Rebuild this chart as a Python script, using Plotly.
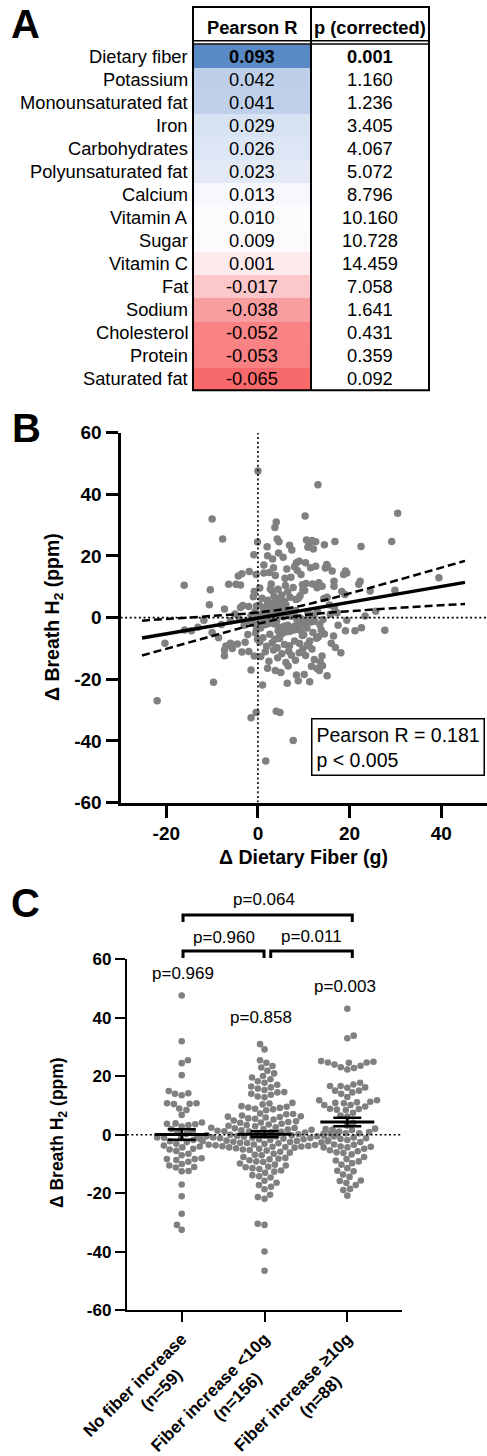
import numpy as np
import plotly.graph_objects as go

W, H = 487, 1456
FONT = "Liberation Sans, Arial, Helvetica, sans-serif"

# ---------------- Panel A data ----------------
nutrients = ["Dietary fiber", "Potassium", "Monounsaturated fat", "Iron", "Carbohydrates",
             "Polyunsaturated fat", "Calcium", "Vitamin A", "Sugar", "Vitamin C", "Fat",
             "Sodium", "Cholesterol", "Protein", "Saturated fat"]
pearson_r = [0.093, 0.042, 0.041, 0.029, 0.026, 0.023, 0.013, 0.010, 0.009, 0.001,
             -0.017, -0.038, -0.052, -0.053, -0.065]
p_corrected = [0.001, 1.160, 1.236, 3.405, 4.067, 5.072, 8.796, 10.160, 10.728, 14.459,
               7.058, 1.641, 0.431, 0.359, 0.092]

# ---------------- Panel B / C data (per participant) ----------------
fiber_none = [0.0, -10.0, -7.7, -0.1, -0.9, -1.9, -3.5, -0.4, -4.3, -6.4,
              -4.8, -16.1, -3.8, -10.4, -0.8, -1.0, -10.6, -3.3, -0.3, -2.0,
              -3.8, -7.3, -0.6, -5.0, -1.5, -0.2, -4.0, -11.8, -2.5, -0.8,
              -6.0, -1.2, -8.0, -3.0, -13.1, -0.3, -16.0, -14.5, -10.0, -0.5,
              -2.2, -8.6, -0.1, -20.3, -2.8, -4.5, -7.0, -5.6, -7.3, -2.0,
              -3.5, -0.8, -7.3, -1.5, -9.7, -22.0, -0.4, -1.5, -6.0]
h2_none = [47.6, 32.0, 25.5, 24.5, 20.4, 15.0, 14.2, 14.0, 13.5, 10.8,
           10.8, 10.5, 10.6, 9.0, 8.5, 6.8, 4.2, 3.9, 3.8, 3.6,
           3.3, 2.8, 2.0, 1.2, 0.8, 0.3, -0.5, -0.9, -1.2, -1.4,
           -1.0, -1.8, -2.2, -2.5, -3.1, -3.7, -4.0, -4.3, -4.8, -5.0,
           -5.5, -6.5, -7.0, -8.3, -8.0, -8.6, -9.2, -10.0, -10.5, -11.0,
           -11.2, -12.5, -12.4, -17.0, -21.0, -27.0, -30.8, -32.5, -8.3]

fiber_low = [4.0, 3.7,
             4.2, 6.9, 8.0, 4.6, 2.0,
             4.5, 2.1, 5.5, 9.0, 7.4, 3.2, 8.4,
             1.3, 3.4, 6.3, 8.6, 1.3, 2.5, 3.8, 7.2, 9.4, 5.9,
             2.9, 6.0, 9.7, 0.4, 3.1, 4.4, 6.5, 7.7, 9.8, 2.7, 0.6, 8.1, 5.1, 4.7,
             5.2, 5.8, 7.0, 8.3, 9.2, 0.9, 4.9, 3.5, 8.8, 2.2, 3.9, 0.3, 1.1, 1.8,
             2.1, 2.6, 3.2, 3.9, 4.5, 4.8, 5.3, 6.1,
             0.8, 1.4, 2.4, 2.9, 3.3, 3.6, 4.1, 4.3, 5.0, 5.6, 5.9, 6.4, 6.6, 6.8,
             7.1, 7.3, 7.6, 7.9, 8.2, 8.5, 8.7, 9.0, 9.3, 9.6, 9.9, 0.2, 0.5, 0.7,
             1.0, 1.2, 1.5, 1.7, 2.0, 2.3, 2.5, 2.8, 3.0, 3.3, 3.6, 3.8, 4.1,
             4.4, 4.6, 4.9, 5.1, 5.4, 5.7, 6.0, 6.3, 6.5, 6.8, 7.0, 7.4, 7.8, 8.1,
             8.4, 8.9, 9.3, 9.7, 1.1, 2.6, 3.7, 4.7, 5.3,
             0.4, 1.9, 3.1, 4.2, 5.8, 6.9, 8.0, 9.1, 1.6, 3.4, 5.2, 6.7, 7.3, 9.0, 9.8,
             0.6, 2.4, 4.3, 6.1, 8.2, 2.1, 6.6, 3.8,
             5.0, 8.4, 8.8, 1.0, 6.4,
             4.0, 4.8, 7.7, 1.7]
h2_low = [31.0, 29.2,
          25.5, 23.5, 16.5, 24.6, 23.0,
          21.0, 20.1, 19.6, 18.3, 21.9, 19.0, 17.8,
          17.1, 16.2, 15.8, 15.3, 14.5, 14.6, 13.7, 13.1, 14.0, 12.8,
          10.9, 10.4, 10.7, 9.6, 8.7, 9.2, 8.4, 9.8, 8.9, 9.3, -3.4, -2.7, -5.0, -6.8,
          7.3, 5.2, 6.6, 5.9, 7.1, 6.3, 5.5, 7.0, 6.2, 5.6, 6.1, 4.1, 3.3, 2.6,
          4.6, 3.1, 4.4, 3.8, 4.9, 2.9, 3.5, 4.2,
          1.2, 0.5, 0.9, 1.7, 0.2, 2.2, 1.4, 0.7, 1.0, 0.3, 2.4, 1.8, 0.6, 2.0,
          1.1, 0.4, 1.5, 0.8, 2.3, -0.6, -2.4, -1.3, -0.2, -2.0, -0.9, -1.6, -0.4, -1.9,
          -0.8, -1.1, -0.3, -2.2, -1.5, -0.7, -1.8, -0.5, -0.1, -1.2, -2.1, 0.0, -1.0,
          -4.3, -3.1, -4.8, -3.6, -4.1, -2.8, -3.3, -4.6, -2.5, -3.9, -4.4, -3.5, -4.0, -2.9,
          -3.8, -2.6, -4.2, -5.8, -6.5, -5.4, -7.0, -6.1, -5.2,
          -7.9, -9.3, -8.2, -9.8, -8.7, -9.1, -7.6, -8.4, -11.1, -10.5, -11.7, -10.9, -12.2, -11.4, -10.2,
          -12.6, -14.2, -13.0, -14.6, -13.8, -16.4, -15.7, -17.2,
          -17.8, -18.6, -20.5, -21.9, -21.3,
          -30.4, -30.8, -39.9, -46.5]

fiber_high = [13.1, 10.3, 30.5, 29.2, 16.8, 22.5, 10.6, 11.2, 12.1, 12.6,
              10.9, 14.5, 11.8, 15.2, 14.7, 15.0, 12.6, 11.5, 10.4, 19.1,
              18.7, 16.2, 19.4, 13.3, 14.0, 12.9, 16.6, 16.6, 22.3, 22.0,
              39.5, 29.9, 24.5, 18.3, 19.0, 15.1, 14.4, 12.3, 11.0, 11.6,
              10.2, 13.5, 10.8, 11.9, 10.5, 15.6, 16.7, 17.3, 15.8, 13.0,
              11.5, 25.7, 23.4, 19.4, 10.9, 12.4, 14.2, 27.7, 21.2, 19.1,
              13.8, 14.5, 12.8, 16.5, 16.0, 16.9, 10.7, 11.3, 11.8, 10.4,
              12.3, 13.6, 14.1, 12.9, 13.4, 11.7, 15.1, 11.3, 10.1, 14.0,
              12.0, 10.3, 17.5, 13.2, 11.1, 22.6, 18.1, 10.0]
h2_high = [43.1, 33.0, 33.9, 24.7, 24.7, 23.1, 25.2, 24.0, 22.3, 24.6,
           22.8, 23.6, 25.0, 16.7, 16.1, 17.2, 16.7, 16.2, 17.8, 15.1,
           14.0, 15.1, 14.5, 11.3, 10.2, 9.7, 11.8, 10.2, 11.8, 10.8,
           12.9, 8.9, 8.6, 8.5, 7.5, 6.6, 6.2, 0.9, -0.3, -1.4,
           8.8, -2.2, -8.8, 10.9, 11.1, 4.1, 3.2, 1.6, 1.1, 2.0,
           0.5, 2.1, 0.5, -0.9, 1.8, -1.2, -0.6, -4.1, -4.3, -4.3,
           -4.0, -5.3, -6.7, -6.0, -8.3, -9.7, -3.4, -7.6, -10.2, -12.3,
           -13.6, -14.4, -15.6, -16.5, -17.2, -15.8, -18.9, -20.8, -18.5, -12.5,
           -4.8, -1.8, -2.5, -6.2, -9.1, -3.3, -11.4, -5.6]

group_names = ["No fiber increase", "Fiber increase <10g", "Fiber increase \u226510g"]
group_p = ["p=0.969", "p=0.858", "p=0.003"]
pair_tests = [(0, 2, "p=0.064"), (0, 1, "p=0.960"), (1, 2, "p=0.011")]
stats_text = ["Pearson R = 0.181", "p &lt; 0.005"]
fit_span = [-25.3, 45.2]

# ---------------- helpers ----------------
def fx(px):
    return px / W


def fy(py):
    return 1 - py / H


BOLD_W = {' ': .278, '(': .333, ')': .333, '<': .584, '=': .584, '\u2265': .549,
          'N': .722, 'F': .611, 'a': .556, 'b': .611, 'c': .556, 'e': .556, 'f': .333,
          'g': .611, 'i': .278, 'n': .611, 'o': .611, 'r': .389, 's': .556}


def bw(s):
    return sum(BOLD_W.get(ch, .556) for ch in s)


def swarm(vals_px, d):
    order = np.argsort(vals_px, kind="stable")
    px_, py_ = [], []
    out = np.zeros(len(vals_px))
    for k, i in enumerate(order):
        y = vals_px[i]
        near = [(a, b) for a, b in zip(px_, py_) if abs(b - y) < d]
        cands = [0.0]
        for a, b in near:
            dx = np.sqrt(d * d - (b - y) ** 2)
            cands += [a - dx, a + dx]
        sgn = 1 if k % 2 else -1
        cands.sort(key=lambda c: (round(abs(c), 6), sgn * c))
        for c in cands:
            if all((c - a) ** 2 + (y - b) ** 2 >= d * d - 1e-6 for a, b in near):
                out[i] = c
                break
        px_.append(out[i])
        py_.append(y)
    return out


fig = go.Figure()
ann = []
shapes = []

# ---------------- Panel A: table ----------------
nrow = len(nutrients)
row_px = 23.03
hdr_units = 37.7 / row_px
zmin, zmax = min(pearson_r), max(pearson_r)
mid = (float(np.median(pearson_r)) - zmin) / (zmax - zmin)
fig.add_trace(go.Heatmap(z=[[v] for v in pearson_r], x0=0.5, dx=1, y0=0, dy=1,
                         colorscale=[[0, "#F8696B"], [mid, "#FCFCFF"], [1, "#5A8AC6"]],
                         zmin=zmin, zmax=zmax, showscale=False, hoverinfo="skip",
                         xaxis="x", yaxis="y"))
tfont = dict(family=FONT, size=18.3, color="black")
for i, (nm, r, p) in enumerate(zip(nutrients, pearson_r, p_corrected)):
    sig = p < 0.05
    wgt = "bold" if sig else "normal"
    ann.append(dict(x=0, y=i, xref="x", yref="y", text=nm, showarrow=False,
                    xanchor="right", yanchor="middle", xshift=-3, font=tfont))
    ann.append(dict(x=0.5, y=i, xref="x", yref="y", text=f"{r:.3f}", showarrow=False,
                    xanchor="center", yanchor="middle", font=dict(tfont, weight=wgt)))
    ann.append(dict(x=1.5, y=i, xref="x", yref="y", text=f"{p:.3f}", showarrow=False,
                    xanchor="center", yanchor="middle", font=dict(tfont, weight=wgt)))
for j, htxt in enumerate(["Pearson R", "p (corrected)"]):
    ann.append(dict(x=0.5 + j, y=-0.5 - hdr_units * 0.45, xref="x", yref="y", text=htxt,
                    showarrow=False, xanchor="center", yanchor="middle",
                    font=dict(tfont, weight="bold")))
tl, tr, tt, tb = 193, 429, 7, 390.3
shapes.append(dict(type="rect", xref="paper", yref="paper", x0=fx(tl), x1=fx(tr),
                   y0=fy(tb), y1=fy(tt), line=dict(color="black", width=2)))
shapes.append(dict(type="line", xref="paper", yref="paper", x0=fx(311), x1=fx(311),
                   y0=fy(tb), y1=fy(tt), line=dict(color="black", width=2)))
for yy in (40.8, 43.9):
    shapes.append(dict(type="line", xref="paper", yref="paper", x0=fx(tl), x1=fx(tr),
                       y0=fy(yy), y1=fy(yy), line=dict(color="black", width=1.5)))

# ---------------- Panel B: scatter ----------------
xb = np.array(fiber_none + fiber_low + fiber_high)
yb = np.array(h2_none + h2_low + h2_high)
fig.add_trace(go.Scatter(x=xb, y=yb, mode="markers", xaxis="x2", yaxis="y2",
                         marker=dict(size=7.5, color="#808080"), hoverinfo="skip"))
slope, icpt = np.polyfit(xb, yb, 1)
n = len(xb)
resid = yb - (slope * xb + icpt)
s = np.sqrt(np.sum(resid ** 2) / (n - 2))
sxx = np.sum((xb - xb.mean()) ** 2)
tcrit = 1.968
xf = np.linspace(fit_span[0], fit_span[1], 150)
yf = slope * xf + icpt
half = tcrit * s * np.sqrt(1.0 / n + (xf - xb.mean()) ** 2 / sxx)
for yy in (yf + half, yf - half):
    fig.add_trace(go.Scatter(x=xf, y=yy, mode="lines", xaxis="x2", yaxis="y2",
                             line=dict(color="black", width=2.5, dash="8px,4px"),
                             hoverinfo="skip"))
fig.add_trace(go.Scatter(x=xf, y=yf, mode="lines", xaxis="x2", yaxis="y2",
                         line=dict(color="black", width=3.5), hoverinfo="skip"))
shapes.append(dict(type="line", xref="x2", yref="y2", x0=0, x1=0, y0=-60, y1=60,
                   layer="above", line=dict(color="black", width=1.6, dash="2px,2.6px")))
shapes.append(dict(type="line", xref="x2", yref="y2", x0=-30, x1=50, y0=0, y1=0,
                   layer="above", line=dict(color="black", width=1.6, dash="2px,2.6px")))
ann.append(dict(x=fx(310.5), y=fy(718), xref="paper", yref="paper", xanchor="left",
                yanchor="top", align="left", text="<br>".join(stats_text), showarrow=False,
                bordercolor="black", borderwidth=1.5, borderpad=4, bgcolor="white",
                font=dict(family=FONT, size=19.5, color="black")))

# ---------------- Panel C: beeswarm ----------------
groups_y = [h2_none, h2_low, h2_high]
cx_dom = (126.8, 402.3)
cx_rng = (-0.663, 2.664)
cy_dom = (1310.3, 959.3)
xpu = (cx_dom[1] - cx_dom[0]) / (cx_rng[1] - cx_rng[0])
ypu = (cy_dom[0] - cy_dom[1]) / 120.0
for g, ys in enumerate(groups_y):
    ys = np.array(ys)
    off = swarm(ys * ypu, 6.9)
    fig.add_trace(go.Scatter(x=g + off / xpu, y=ys, mode="markers", xaxis="x3", yaxis="y3",
                             marker=dict(size=6.6, color="#808080"), hoverinfo="skip"))
for g, ys in enumerate(groups_y):
    ys = np.array(ys)
    m = ys.mean()
    sem = ys.std(ddof=1) / np.sqrt(len(ys))
    fig.add_trace(go.Scatter(x=[g - 27 / xpu, g + 27 / xpu], y=[m, m], mode="lines",
                             xaxis="x3", yaxis="y3", line=dict(color="black", width=3),
                             hoverinfo="skip"))
    fig.add_trace(go.Scatter(x=[g], y=[m], mode="markers", xaxis="x3", yaxis="y3",
                             marker=dict(size=1, color="rgba(0,0,0,0)"),
                             error_y=dict(type="data", array=[sem], color="black",
                                          thickness=2.5, width=14), hoverinfo="skip"))
shapes.append(dict(type="line", xref="x3", yref="y3", x0=cx_rng[0], x1=cx_rng[1], y0=0, y1=0,
                   layer="above", line=dict(color="black", width=1.6, dash="2px,2.6px")))


def c2p(v):
    return fx(cx_dom[0] + (v - cx_rng[0]) * xpu)


# brackets
brk = {(0, 2): (0.016, 2.06, 915, 922), (0, 1): (0.016, 0.994, 951, 958),
       (1, 2): (1.075, 2.06, 951, 958)}
txt_pos = {(0, 2): (264, 899), (0, 1): (223.7, 937), (1, 2): (311.3, 936)}
for i, j, t in pair_tests:
    a, b, ytop, yleg = brk[(i, j)]
    x0, x1 = c2p(a), c2p(b)
    shapes.append(dict(type="path", xref="paper", yref="paper",
                       path=f"M{x0},{fy(yleg)} L{x0},{fy(ytop)} L{x1},{fy(ytop)} L{x1},{fy(yleg)}",
                       line=dict(color="black", width=3)))
    tx, ty = txt_pos[(i, j)]
    ann.append(dict(x=fx(tx), y=fy(ty), xref="paper", yref="paper", text=t, showarrow=False,
                    xanchor="center", yanchor="middle",
                    font=dict(family=FONT, size=17, color="black")))
for (tx, ty), t in zip([(182.5, 974), (261.3, 1017), (344.7, 986)], group_p):
    ann.append(dict(x=fx(tx), y=fy(ty), xref="paper", yref="paper", text=t, showarrow=False,
                    xanchor="center", yanchor="middle",
                    font=dict(family=FONT, size=17, color="black")))

ticktext_c = []
for nm, ys in zip(group_names, groups_y):
    l2 = f"(n={len(ys)})"
    pad = max(0, int(round((bw(nm) - bw(l2)) / 2 / 0.278)) - 3)
    ticktext_c.append(f"{nm}<br>{l2}" + "\u00a0" * pad)

# ---------------- titles & panel letters ----------------
for L, (x, y) in zip("ABC", [(25.7, 23.8), (26, 428.5), (25.7, 903)]):
    ann.append(dict(x=fx(x), y=fy(y), xref="paper", yref="paper", text=L, showarrow=False,
                    xanchor="center", yanchor="middle",
                    font=dict(family=FONT, size=40, color="black", weight="bold")))
ann.append(dict(x=fx(53), y=fy(617), xref="paper", yref="paper", textangle=-90,
                text="\u0394 Breath H<sub>2</sub> (ppm)", showarrow=False,
                xanchor="center", yanchor="middle",
                font=dict(family=FONT, size=19.5, color="black", weight="bold")))
ann.append(dict(x=fx(303.7), y=fy(857), xref="paper", yref="paper",
                text="\u0394 Dietary Fiber (g)", showarrow=False,
                xanchor="center", yanchor="middle",
                font=dict(family=FONT, size=19.5, color="black", weight="bold")))
ann.append(dict(x=fx(58), y=fy(1133), xref="paper", yref="paper", textangle=-90,
                text="\u0394 Breath H<sub>2</sub> (ppm)", showarrow=False,
                xanchor="center", yanchor="middle",
                font=dict(family=FONT, size=17.5, color="black", weight="bold")))

yt = list(range(-60, 61, 20))
ax_common = dict(showgrid=False, zeroline=False, showline=True, linecolor="black",
                 ticks="outside", tickcolor="black", fixedrange=True, automargin=False)
fig.update_layout(
    template="none",
    width=W, height=H, margin=dict(l=0, r=0, t=0, b=0, pad=0, autoexpand=False),
    paper_bgcolor="white", plot_bgcolor="rgba(0,0,0,0)", showlegend=False,
    font=dict(family=FONT, color="black"),
    xaxis=dict(domain=[fx(tl), fx(tr)], range=[0, 2], visible=False, fixedrange=True,
               automargin=False),
    yaxis=dict(domain=[fy(tb), fy(tt)], range=[nrow - 0.5, -0.5 - hdr_units],
               visible=False, fixedrange=True, automargin=False),
    xaxis2=dict(ax_common, domain=[fx(120.5), 1.0], range=[-30, 50], anchor="y2",
                tickvals=[-20, 0, 20, 40], ticktext=[str(v) for v in [-20, 0, 20, 40]],
                linewidth=3, ticklen=12, tickwidth=3,
                tickfont=dict(family=FONT, size=19, weight="bold")),
    yaxis2=dict(ax_common, domain=[fy(802.5), fy(432.7)], range=[-60, 60], anchor="x2",
                tickvals=yt, ticktext=[str(v) for v in yt],
                linewidth=3, ticklen=12, tickwidth=3,
                tickfont=dict(family=FONT, size=19, weight="bold")),
    xaxis3=dict(ax_common, domain=[fx(cx_dom[0]), fx(cx_dom[1])], range=list(cx_rng),
                anchor="y3", tickvals=[0, 1, 2], ticktext=ticktext_c, tickangle=-45,
                linewidth=2, ticklen=10, tickwidth=2,
                tickfont=dict(family=FONT, size=17, weight="bold")),
    yaxis3=dict(ax_common, domain=[fy(cy_dom[0]), fy(cy_dom[1])], range=[-60, 60],
                anchor="x3", tickvals=yt, ticktext=[str(v) for v in yt],
                linewidth=2, ticklen=10, tickwidth=2,
                tickfont=dict(family=FONT, size=17, weight="bold")),
    annotations=ann, shapes=shapes,
)
fig.write_html("out.html")
